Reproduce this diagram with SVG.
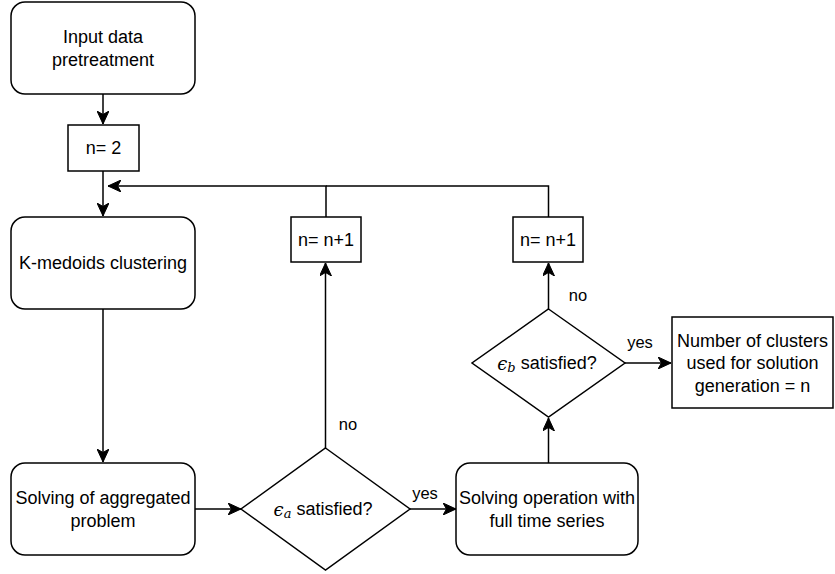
<svg xmlns="http://www.w3.org/2000/svg" width="835" height="574" viewBox="0 0 835 574">
<style>
  .box { fill: #ffffff; stroke: #000000; stroke-width: 1.5; }
  .t { font-family: "Liberation Sans", Arial, sans-serif; font-size: 18px; fill: #000000; text-anchor: middle; dominant-baseline: central; }
  .lbl { font-family: "Liberation Sans", Arial, sans-serif; font-size: 16.5px; fill: #000000; text-anchor: middle; dominant-baseline: central; }
  .m { font-family: "DejaVu Serif", "Liberation Serif", serif; font-style: italic; }
  .ln { fill: none; stroke: #000000; stroke-width: 1.5; }
</style>
<defs>
  <marker id="arr" markerUnits="userSpaceOnUse" markerWidth="14" markerHeight="12" refX="13" refY="6" orient="auto" viewBox="0 0 14 12">
    <path d="M0,0 L13,6 L0,12 L3.5,6 Z" fill="#000000" stroke="#000000" stroke-width="1"/>
  </marker>
</defs>
<rect width="835" height="574" fill="#ffffff"/>

<g id="connectors">
  <path class="ln" d="M103,94 L103,124" stroke-width="2" marker-end="url(#arr)"/>
  <path class="ln" d="M103,171 L103,216" marker-end="url(#arr)"/>
  <path class="ln" d="M326,217 L326,186 L108,186" marker-end="url(#arr)"/>
  <path class="ln" d="M548.5,217 L548.5,186 L326,186"/>
  <path class="ln" d="M103,309 L103,462" marker-end="url(#arr)"/>
  <path class="ln" d="M195,509 L241,509" marker-end="url(#arr)"/>
  <path class="ln" d="M325.5,448 L325.5,263" marker-end="url(#arr)"/>
  <path class="ln" d="M410,509 L456,509" marker-end="url(#arr)"/>
  <path class="ln" d="M548.5,463 L548.5,418" marker-end="url(#arr)"/>
  <path class="ln" d="M548.5,309 L548.5,263" marker-end="url(#arr)"/>
  <path class="ln" d="M625,363 L671,363" marker-end="url(#arr)"/>
  <text class="lbl" x="348" y="424">no</text>
  <text class="lbl" x="425" y="493">yes</text>
  <text class="lbl" x="578" y="295">no</text>
  <text class="lbl" x="640" y="342">yes</text>
</g>

<g id="input">
  <rect class="box" x="11" y="2" width="184" height="92" rx="14"/>
  <text class="t" x="103" y="37">Input data</text>
  <text class="t" x="103" y="60">pretreatment</text>
</g>

<g id="n2">
  <rect class="box" x="68" y="125" width="71" height="46"/>
  <text class="t" x="103.5" y="148">n= 2</text>
</g>

<g id="kmedoids">
  <rect class="box" x="11" y="217" width="184" height="92" rx="14"/>
  <text class="t" x="103" y="263">K-medoids clustering</text>
</g>

<g id="aggregated">
  <rect class="box" x="11" y="463" width="184" height="92" rx="14"/>
  <text class="t" x="103" y="498">Solving of aggregated</text>
  <text class="t" x="103" y="521">problem</text>
</g>

<g id="diamond-a">
  <polygon class="box" points="325.5,448 410,509 325.5,570 241,509"/>
  <text class="t" x="323" y="509"><tspan class="m">ϵ</tspan><tspan class="m" font-size="13" dy="4">a</tspan><tspan dy="-4"> satisfied?</tspan></text>
</g>

<g id="nplus1-a">
  <rect class="box" x="291" y="217" width="70" height="45"/>
  <text class="t" x="326" y="240">n= n+1</text>
</g>

<g id="fullseries">
  <rect class="box" x="456" y="463" width="182" height="92" rx="14"/>
  <text class="t" x="547" y="498">Solving operation with</text>
  <text class="t" x="547" y="521">full time series</text>
</g>

<g id="diamond-b">
  <polygon class="box" points="548.5,309 625,363 548.5,417 472,363"/>
  <text class="t" x="547" y="363"><tspan class="m">ϵ</tspan><tspan class="m" font-size="13" dy="4">b</tspan><tspan dy="-4"> satisfied?</tspan></text>
</g>

<g id="nplus1-b">
  <rect class="box" x="513" y="217" width="70" height="45"/>
  <text class="t" x="548" y="240">n= n+1</text>
</g>

<g id="result">
  <rect class="box" x="672" y="317" width="161" height="91"/>
  <text class="t" x="752.5" y="341">Number of clusters</text>
  <text class="t" x="752.5" y="363">used for solution</text>
  <text class="t" x="752.5" y="386">generation = n</text>
</g>
</svg>
